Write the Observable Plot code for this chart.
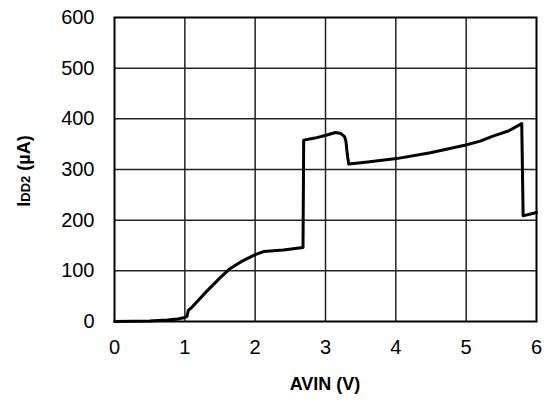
<!DOCTYPE html>
<html>
<head>
<meta charset="utf-8">
<script src="https://cdn.jsdelivr.net/npm/d3@7"></script>
<script src="https://cdn.jsdelivr.net/npm/@observablehq/plot@0.6"></script>
<style>
  html, body { margin: 0; padding: 0; background: #fff; }
  svg { display: block; }
</style>
</head>
<body>
<div id="chart"></div>
<script>
const avin = [0, 0.25, 0.5, 0.75, 0.9, 1.0, 1.03, 1.05, 1.1, 1.3, 1.5, 1.63, 1.8, 2.0, 2.12, 2.4, 2.68, 2.69, 2.85, 3.02, 3.14, 3.22, 3.27, 3.29, 3.31, 3.33, 3.6, 4.01, 4.49, 4.98, 5.2, 5.38, 5.6, 5.79, 5.81, 6.0];
const idd2 = [0, 0.3, 1, 3, 5, 8, 10, 22, 28, 58, 86, 103, 118, 132, 138, 141, 146, 358, 362, 368, 373, 371, 365, 356, 330, 311, 315, 321.5, 333, 348, 356, 366, 376, 390.5, 208.5, 215];
const xTicks = [0, 1, 2, 3, 4, 5, 6];
const yTicks = [0, 100, 200, 300, 400, 500, 600];
const xLabel = "AVIN (V)";
const yLabelMain = "I";
const yLabelSub = "DD2";
const yLabelUnit = " (µA)";

const data = avin.map((x, i) => ({x, y: idd2[i]}));
const font = "'Liberation Sans', Arial, Helvetica, sans-serif";

const plot = Plot.plot({
  width: 551,
  height: 403,
  marginLeft: 114,
  marginRight: 15,
  marginTop: 17,
  marginBottom: 82,
  style: {fontFamily: font, fontSize: "20px", color: "#000", background: "#fff"},
  x: {domain: [0, 6], label: null},
  y: {domain: [0, 600], label: null},
  marks: [
    Plot.ruleX(xTicks.slice(1, -1), {stroke: "#222", strokeWidth: 1.5}),
    Plot.ruleY(yTicks.slice(1, -1), {stroke: "#222", strokeWidth: 1.5}),
    Plot.frame({stroke: "#000", strokeWidth: 2}),
    Plot.line(data, {x: "x", y: "y", stroke: "#000", strokeWidth: 3, strokeLinejoin: "round"}),
    Plot.axisX({ticks: xTicks, tickFormat: d3.format("d"), tickSize: 0, tickPadding: 18, fontSize: 20, label: null}),
    Plot.axisY({ticks: yTicks, tickFormat: d3.format("d"), tickSize: 0, tickPadding: 20, fontSize: 20, label: null})
  ]
});

const svg = d3.select(plot);
svg.append("text")
  .attr("x", 325).attr("y", 390)
  .attr("text-anchor", "middle")
  .attr("font-family", font)
  .attr("font-weight", "bold")
  .attr("font-size", 18)
  .attr("fill", "#000")
  .text(xLabel);

const yl = svg.append("text")
  .attr("transform", "translate(30,171) rotate(-90)")
  .attr("text-anchor", "middle")
  .attr("font-family", font)
  .attr("font-weight", "bold")
  .attr("font-size", 18)
  .attr("fill", "#000");
yl.append("tspan").text(yLabelMain);
yl.append("tspan").attr("font-size", 13).text(yLabelSub);
yl.append("tspan").text(yLabelUnit);

document.getElementById("chart").appendChild(plot);
</script>
</body>
</html>
